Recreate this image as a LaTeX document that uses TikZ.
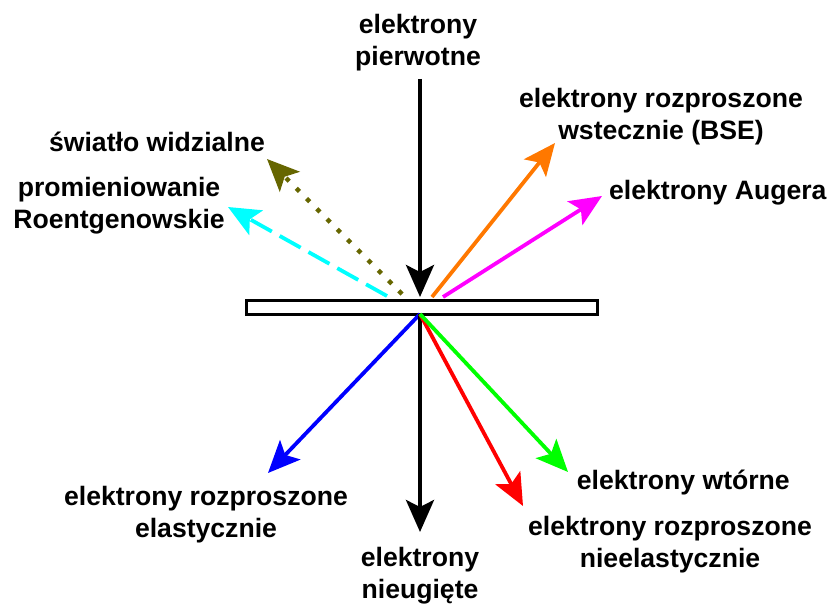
\documentclass[tikz,border=0pt]{standalone}
\usepackage{fontspec}
\setmainfont{Liberation Sans}
\usetikzlibrary{arrows.meta}
\definecolor{olivec}{RGB}{102,102,0}
\definecolor{cyanc}{RGB}{0,255,255}
\definecolor{orangec}{RGB}{255,120,0}
\definecolor{magc}{RGB}{255,0,255}
\definecolor{bluec}{RGB}{0,0,255}
\definecolor{redc}{RGB}{255,0,0}
\definecolor{greenc}{RGB}{0,255,0}
\tikzset{
  lbl/.style={inner sep=0pt, font=\fontsize{26.6}{32}\selectfont\bfseries, align=center},
  ray/.style={line width=3.8pt, -{Stealth[length=32pt,width=28pt,inset=7pt]}},
}
\begin{document}
\begin{tikzpicture}[x=1pt,y=-1pt]
\useasboundingbox (0,0) rectangle (829,604);
% sample bar
\node[draw, line width=3pt, minimum width=351pt, minimum height=14pt, inner sep=0pt, anchor=north west] (bar) at (244.5,298.5) {};
% labels
\node[lbl] (prim) at (418,43) {elektrony\\pierwotne};
\node[lbl] (bse) at (661,117) {elektrony rozproszone\\wstecznie (BSE)};
\node[lbl, anchor=base west] (aug) at (609,199) {elektrony Augera};
\node[lbl, anchor=base] (vis) at (157,152) {światło widzialne};
\node[lbl] (xray) at (119,206) {promieniowanie\\Roentgenowskie};
\node[lbl] (elas) at (206,515) {elektrony rozproszone\\elastycznie};
\node[lbl, anchor=base east] (sec) at (790,489) {elektrony wtórne};
\node[lbl] (inel) at (670,545) {elektrony rozproszone\\nieelastycznie};
\node[lbl] (unsc) at (420,576) {elektrony\\nieugięte};
% coordinates
\coordinate (top) at (420,79);
\coordinate (hit) at (420,297);
\coordinate (exit) at (420,314);
\coordinate (sOl) at (402,294);
\coordinate (sCy) at (387,296);
\coordinate (sOr) at (432,297);
\coordinate (sMa) at (443,297);
\coordinate (tOl) at (267,159);
\coordinate (tCy) at (228,207);
\coordinate (tOr) at (555,143);
\coordinate (tMa) at (602,196);
\coordinate (tBl) at (268,473);
\coordinate (tDn) at (420,532);
\coordinate (tRe) at (523,506);
\coordinate (tGr) at (568,472);
% rays
\draw[ray, black] (top) -- (hit);
\draw[ray, olivec, line width=4.5pt, dash pattern=on 4.5pt off 10pt] (sOl) -- (tOl);
\draw[ray, cyanc, dash pattern=on 24pt off 9pt] (sCy) -- (tCy);
\draw[ray, orangec] (sOr) -- (tOr);
\draw[ray, magc] (sMa) -- (tMa);
\draw[ray, bluec] (exit) -- (tBl);
\draw[ray, black] (exit) -- (tDn);
\draw[ray, redc] (exit) -- (tRe);
\draw[ray, greenc] (exit) -- (tGr);
\end{tikzpicture}
\end{document}
